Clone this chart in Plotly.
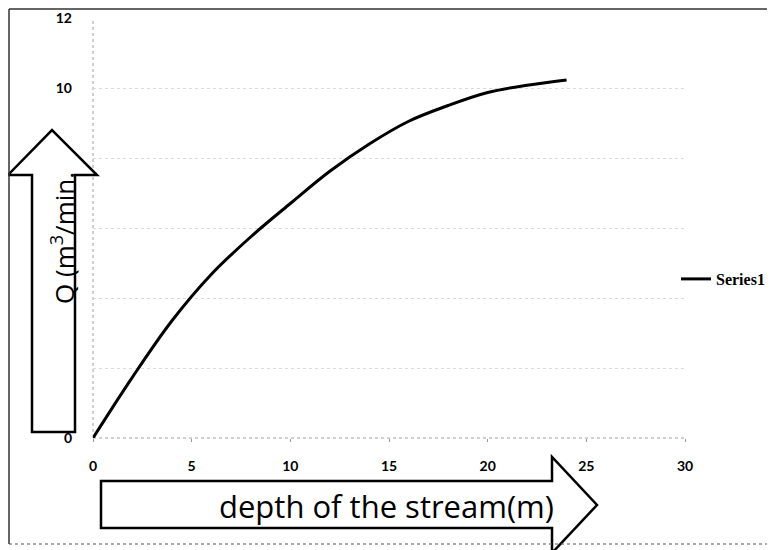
import plotly.graph_objects as go

# ---- data ----
depth_m = [0, 2, 4, 6, 8, 10, 12, 14, 16, 18, 20, 22, 24]
flow_q = [0, 1.74, 3.35, 4.68, 5.75, 6.7, 7.62, 8.4, 9.05, 9.5, 9.87, 10.08, 10.23]
series_name = "Series1"
x_ticks = [0, 5, 10, 15, 20, 25, 30]
y_ticks = [0, 2, 4, 6, 8, 10, 12]
x_title = "depth of the stream(m)"
y_title = "Q (m<sup>3</sup>/min."

# page body has an 8px margin; compensate so the plot lands where the reference has it
OFF = 8
W, H = 775 - OFF, 550 - OFF
L, R, T, B = 93 - OFF, 90, 18 - OFF, 112
PW, PH = W - L - R, H - T - B


def px(x, y):
    """screen pixel -> paper coords"""
    return (x - OFF - L) / PW, (H - B - (y - OFF)) / PH


def path(points):
    parts = []
    for i, (x, y) in enumerate(points):
        a, b = px(x, y)
        parts.append(("M" if i == 0 else "L") + f"{a:.5f},{b:.5f}")
    return " ".join(parts) + " Z"


fig = go.Figure()
fig.add_trace(go.Scatter(
    x=depth_m, y=flow_q, mode="lines", name=series_name,
    line=dict(color="black", width=3, shape="spline"),
))

shapes = []
# up arrow (y title)
shapes.append(dict(type="path", xref="paper", yref="paper", layer="above",
                   path=path([(32, 432), (32, 175), (8, 175), (52, 130), (97, 175), (75, 175), (75, 432)]),
                   line=dict(color="black", width=2.5), fillcolor="white"))
# right arrow (x title)
shapes.append(dict(type="path", xref="paper", yref="paper", layer="above",
                   path=path([(101, 481), (552, 481), (552, 457), (597, 505), (552, 553), (552, 528), (101, 528)]),
                   line=dict(color="black", width=2.5), fillcolor="white"))
# dotted axis lines
shapes.append(dict(type="line", xref="paper", yref="paper", x0=0, x1=0, y0=0, y1=1,
                   line=dict(color="#a0a0a0", width=1, dash="dot"), layer="below"))
shapes.append(dict(type="line", xref="paper", yref="paper", x0=0, x1=1, y0=0, y1=0,
                   line=dict(color="#a0a0a0", width=1, dash="dot"), layer="below"))
# outer border (top, left solid; bottom dotted)
a1, b1 = px(9, 9)
a2, b2 = px(770, 544)
shapes.append(dict(type="line", xref="paper", yref="paper", x0=a1, x1=a2, y0=b1, y1=b1,
                   line=dict(color="#333333", width=1.5)))
shapes.append(dict(type="line", xref="paper", yref="paper", x0=a1, x1=a1, y0=b1, y1=b2,
                   line=dict(color="#333333", width=1.5)))
shapes.append(dict(type="line", xref="paper", yref="paper", x0=a1, x1=a2, y0=b2, y1=b2,
                   line=dict(color="#555555", width=1, dash="dot")))

ax, ay = px(386, 506)
bx, by = px(63, 238)
annotations = [
    dict(text=x_title, xref="paper", yref="paper", x=ax, y=ay, showarrow=False,
         xanchor="center", yanchor="middle",
         font=dict(family="Open Sans", size=31, color="black")),
    dict(text=y_title, xref="paper", yref="paper", x=bx, y=by, showarrow=False,
         xanchor="center", yanchor="middle", textangle=-90,
         font=dict(family="Open Sans", size=26, color="black")),
]

lx, ly = px(676, 279)
fig.update_layout(
    width=W, height=H,
    margin=dict(l=L, r=R, t=T, b=B, autoexpand=False),
    paper_bgcolor="white", plot_bgcolor="white",
    showlegend=True,
    legend=dict(x=lx, y=ly, xanchor="left", yanchor="middle",
                font=dict(family="Liberation Serif", size=16, color="black", weight="bold"),
                bgcolor="rgba(0,0,0,0)", itemwidth=30),
    shapes=shapes,
    annotations=annotations,
    xaxis=dict(range=[0, 30], tickvals=x_ticks, showgrid=False, zeroline=False,
               showline=False, ticks="outside", ticklen=3, tickcolor="#999999",
               ticklabelstandoff=12,
               tickfont=dict(family="Lato", size=14, color="black", weight="bold")),
    yaxis=dict(range=[0, 12], tickvals=y_ticks, showgrid=True, gridcolor="#dadada",
               griddash="dot", gridwidth=1, zeroline=False, showline=False,
               ticks="", ticklabelstandoff=20,
               tickfont=dict(family="Lato", size=14, color="black", weight="bold")),
)

fig.write_html("out.html")
